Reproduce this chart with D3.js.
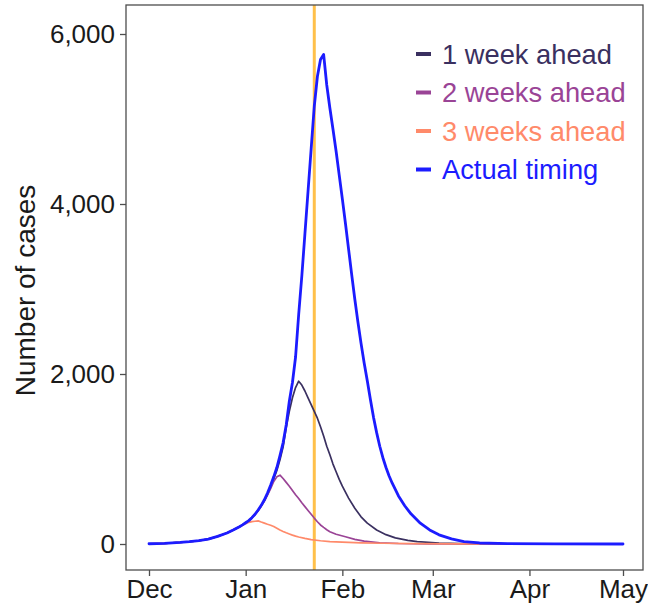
<!DOCTYPE html>
<html>
<head>
<meta charset="utf-8">
<script src="https://cdn.jsdelivr.net/npm/d3@7"></script>
<style>
  html, body { margin: 0; padding: 0; background: #fff; }
  svg { display: block; font-family: "Liberation Sans", Arial, Helvetica, sans-serif; }
</style>
</head>
<body>
<svg id="chart" width="648" height="607"></svg>
<script>
// Epidemic curves: days are counted from 1 December 2015.
const seasonStart = new Date(2015, 11, 1);
const seasonEnd = new Date(2016, 4, 1);

const monthLabels = ["Dec", "Jan", "Feb", "Mar", "Apr", "May"];
const monthStarts = ["2015-12-01", "2016-01-01", "2016-02-01", "2016-03-01", "2016-04-01", "2016-05-01"];
const caseTicks = [0, 2000, 4000, 6000];

// Date of the actual intervention (vertical marker)
const interventionDate = "2016-01-23";

const seriesNames = ["1 week ahead", "2 weeks ahead", "3 weeks ahead", "Actual timing"];
const seriesColors = ["#3a3060", "#9a4496", "#ff8a6a", "#1c1cff"];

const actualDay = [0,5,10,13,16,19,22,25,27,29,
  30,31,32,33,34,35,36,37,38,39,40,41,42,43,44,45,46,47,48,49,
  50,51,52,53,54,55,56,57,58,59,60,61,62,63,64,65,66,67,68,69,
  70,71,72,73,74,75,76,77,78,80,82,84,87,90,93,97,101,106,115,130,152];
const actualCases = [3,8,18,27,40,58,90,130,165,204,
  225,250,275,310,350,400,455,520,600,690,790,900,1040,1190,1400,1680,1900,2200,2700,3150,
  3650,4150,4650,5150,5500,5700,5760,5400,5130,4880,4620,4340,4060,3770,3470,3170,2880,2610,2360,2130,
  1920,1700,1490,1310,1150,1015,900,800,715,565,450,355,245,165,108,60,28,12,4,1,0];

const week1Day = [0,5,10,13,16,19,22,25,27,29,
  30,31,32,33,34,35,36,37,38,39,40,41,42,43,44,45,46,47,48,49,
  50,51,52,53,54,55,56,57,58,59,60,61,62,63,64,66,68,70,73,76,79,83,86,93,100,115,152];
const week1Cases = [3,8,18,27,40,58,90,130,165,204,
  225,250,275,310,350,395,450,510,585,670,765,865,990,1140,1370,1560,1720,1840,1915,1870,
  1800,1720,1640,1560,1480,1380,1270,1150,1050,940,850,760,680,610,540,420,320,245,165,110,72,42,27,12,5,1,0];

const week2Day = [0,5,10,13,16,19,22,25,27,29,
  30,31,32,33,34,35,36,37,38,39,40,41,42,43,44,45,46,47,48,49,
  50,51,52,53,54,55,56,57,58,60,63,66,69,74,80,90,152];
const week2Cases = [3,8,18,27,40,58,90,130,165,204,
  225,250,275,308,345,392,445,505,575,650,735,790,810,770,725,680,630,580,535,485,
  440,395,350,305,262,224,195,168,145,115,85,55,33,14,6,2,0];

const week3Day = [0,5,10,13,16,19,22,25,27,29,
  30,31,32,33,34,35,36,37,38,39,40,41,42,43,44,45,46,47,48,50,52,55,58,62,68,75,85,100,152];
const week3Cases = [3,8,18,27,40,58,90,130,165,200,
  220,240,255,264,268,272,258,245,232,220,205,185,165,148,132,118,104,92,82,66,52,38,28,21,14,9,5,2,0];

const svg = d3.select("#chart");

// Panel geometry
const panel = { left: 126, right: 643, top: 5, bottom: 570 };

const x = d3.scaleTime().domain([seasonStart, seasonEnd]).range([149, 623]);
const y = d3.scaleLinear().domain([0, 6000]).range([544, 34]);

const toDate = d => d3.timeDay.offset(seasonStart, d);
const parse = d3.timeParse("%Y-%m-%d");

const series = [
  { days: week1Day, cases: week1Cases, width: 1.7 },
  { days: week2Day, cases: week2Cases, width: 1.7 },
  { days: week3Day, cases: week3Cases, width: 1.7 },
  { days: actualDay, cases: actualCases, width: 2.8 }
].map((s, i) => ({
  name: seriesNames[i],
  color: seriesColors[i],
  width: s.width,
  points: s.days.map((d, j) => ({ date: toDate(d), value: s.cases[j] }))
}));

// Intervention marker
svg.append("line")
  .attr("x1", x(parse(interventionDate))).attr("x2", x(parse(interventionDate)))
  .attr("y1", panel.top).attr("y2", panel.bottom)
  .attr("stroke", "#ffc04a").attr("stroke-width", 3);

const line = d3.line()
  .x(d => x(d.date))
  .y(d => y(d.value))
  .curve(d3.curveLinear);

svg.append("g").selectAll("path")
  .data(series)
  .join("path")
  .attr("d", d => line(d.points))
  .attr("fill", "none")
  .attr("stroke", d => d.color)
  .attr("stroke-width", d => d.width)
  .attr("stroke-linejoin", "round")
  .attr("stroke-linecap", "round");

// Panel border
svg.append("rect")
  .attr("x", panel.left).attr("y", panel.top)
  .attr("width", panel.right - panel.left).attr("height", panel.bottom - panel.top)
  .attr("fill", "none").attr("stroke", "#4d4d4d").attr("stroke-width", 1.3);

// Axes
const yAxis = d3.axisLeft(y)
  .tickValues(caseTicks)
  .tickFormat(d3.format(","))
  .tickSize(6).tickPadding(5);

const xAxis = d3.axisBottom(x)
  .tickValues(monthStarts.map(parse))
  .tickFormat((d, i) => monthLabels[i])
  .tickSize(6).tickPadding(4);

const gy = svg.append("g").attr("transform", `translate(${panel.left},0)`).call(yAxis);
const gx = svg.append("g").attr("transform", `translate(0,${panel.bottom})`).call(xAxis);

[gx, gy].forEach(g => {
  g.select(".domain").remove();
  g.selectAll(".tick line").attr("stroke", "#4d4d4d").attr("stroke-width", 1.3);
  g.selectAll(".tick text")
    .attr("fill", "#1a1a1a")
    .style("font-size", "26px")
    .style("font-family", "'Liberation Sans', Arial, sans-serif");
});

// Y axis title
svg.append("text")
  .attr("transform", `translate(35,${(panel.top + panel.bottom) / 2 + 3}) rotate(-90)`)
  .attr("text-anchor", "middle")
  .attr("fill", "#1a1a1a")
  .style("font-size", "28px")
  .text("Number of cases");

// Legend
const legend = svg.append("g").attr("transform", "translate(416,54)");
const rows = legend.selectAll("g")
  .data(series)
  .join("g")
  .attr("transform", (d, i) => `translate(0,${i * 38.5})`);

rows.append("line")
  .attr("x1", 0).attr("x2", 15)
  .attr("y1", 0).attr("y2", 0)
  .attr("stroke", d => d.color)
  .attr("stroke-width", 4);

rows.append("text")
  .attr("x", 26).attr("y", 0).attr("dy", "0.35em")
  .attr("fill", d => d.color)
  .style("font-size", "27.3px")
  .text(d => d.name);
</script>
</body>
</html>
